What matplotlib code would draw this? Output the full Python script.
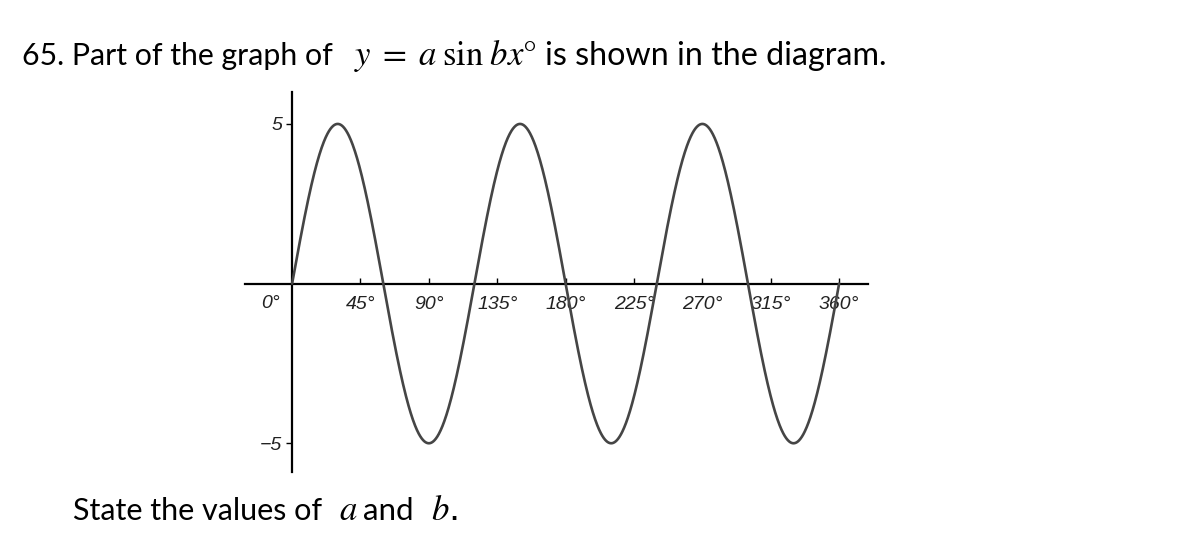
import numpy as np
import matplotlib
matplotlib.use("Agg")
from matplotlib import pyplot as plt

# curve y = a sin(b x°)
amplitude = 5
frequency = 3
x_start, x_end = 0, 360

x_ticks = [45, 90, 135, 180, 225, 270, 315, 360]
x_tick_labels = ["45°", "90°", "135°", "180°", "225°", "270°", "315°", "360°"]
y_ticks = [-5, 5]
y_tick_labels = ["\u22125", "5"]

plt.rcParams["mathtext.fontset"] = "stix"

W, H = 1204, 555
fig = plt.figure(figsize=(W / 100, H / 100), dpi=100)


def put(xpx, ypx, s, size, **kw):
    fig.text(xpx / W, 1 - ypx / H, s, fontsize=size, va="baseline", ha="left", **kw)


# question text, pieces placed along one baseline
put(22, 65, "65. Part of the graph of", 21.8, family="Lato")
put(354, 65, "$y\\;=\\;a\\;\\mathrm{sin}\\;bx°$", 25)
put(545, 65, "is shown in the diagram.", 23.2, family="Lato")

put(73, 520, "State the values of", 22, family="Lato")
put(339, 520, "$a$", 25)
put(363, 520, "and", 22.5, family="Lato")
put(431, 520, "$b$.", 25)

ax = fig.add_axes([245 / W, 1 - 472 / H, 623 / W, 380 / H])
ax.set_xlim(-31, 379)
ax.set_ylim(-5.9, 6.0)

xs = np.linspace(x_start, x_end, 1500)
ys = amplitude * np.sin(np.radians(frequency * xs))
ax.plot(xs, ys, color="#454545", lw=1.9, solid_capstyle="round", zorder=3)

for side in ["top", "right"]:
    ax.spines[side].set_visible(False)
ax.spines["bottom"].set_position(("data", 0))
ax.spines["left"].set_position(("data", 0))
ax.spines["bottom"].set_linewidth(1.6)
ax.spines["left"].set_linewidth(1.6)

ax.set_xticks(x_ticks)
ax.set_xticklabels(x_tick_labels, fontsize=14, family="Liberation Sans",
                   style="italic", color="#222222")
ax.tick_params(axis="x", direction="in", length=4, width=1, pad=9)

ax.set_yticks(y_ticks)
ax.set_yticklabels(y_tick_labels, fontsize=14, family="Liberation Sans",
                   style="italic", color="#222222")
ax.tick_params(axis="y", direction="out", length=4, width=1, pad=3)

# origin label sits left of the y axis
ax.text(-14, -0.62, "0°", fontsize=14, family="Liberation Sans",
        style="italic", color="#222222", ha="center", va="center")

fig.savefig("out.png", dpi=100)
